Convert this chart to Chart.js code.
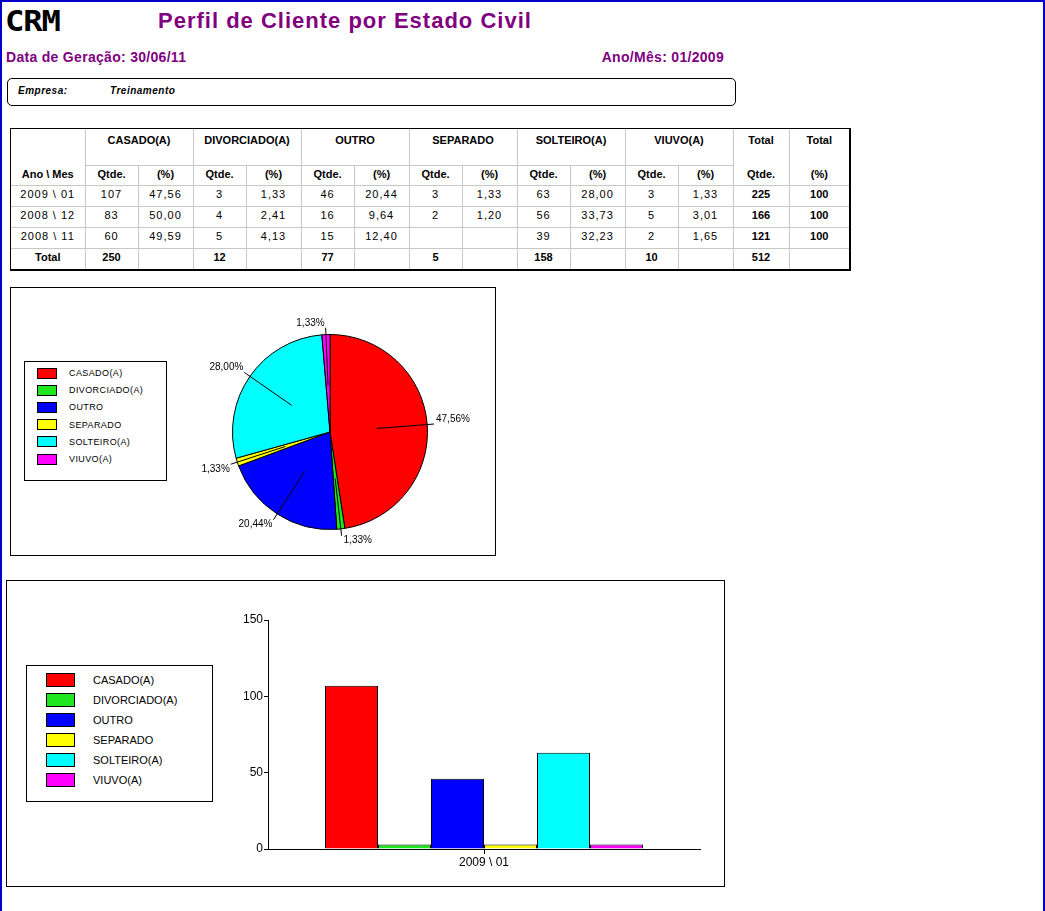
<!DOCTYPE html>
<html lang="pt-BR">
<head>
<meta charset="utf-8">
<title>Perfil de Cliente por Estado Civil</title>
<script src="https://cdn.jsdelivr.net/npm/chart.js@4.4.0/dist/chart.umd.min.js"></script>
<style>
  body { margin: 0; width: 1045px; height: 911px; position: relative; overflow: hidden;
         font-family: "Liberation Sans", Arial, sans-serif; color: #000; background: #fff; }
  .abs { position: absolute; }
  #moldura { left: 0; top: 0; width: 1041px; height: 930px; border: 2px solid #0000c8; border-bottom: none; }
  #logo { left: 5px; top: 5px; font-family: "DejaVu Sans Mono", monospace; font-weight: bold;
          font-size: 28px; letter-spacing: -1px; transform: scaleX(1.15); transform-origin: left; }
  #titulo { left: 158px; top: 8px; font-size: 22px; font-weight: bold; color: #800080; letter-spacing: 1px; }
  .sub { top: 49px; font-size: 14px; font-weight: bold; color: #800080; letter-spacing: 0.3px; }
  #empresa { left: 7px; top: 78px; width: 727px; height: 26px; border: 1px solid #000; border-radius: 5px; }
  #empresa span { position: absolute; top: 6px; font-size: 10px; font-weight: bold; font-style: italic; letter-spacing: 0.5px; }
  #tabelaBox { left: 10px; top: 128px; width: 838px; height: 140px; border: 1px solid #000; border-right-width: 2px; border-bottom-width: 2px; }
  table { border-collapse: collapse; border-style: hidden; table-layout: fixed; width: 838px; font-size: 11px; }
  td { border: 1px solid #c8c8c8; padding: 0; text-align: center; overflow: hidden; white-space: nowrap; }
  td.n { letter-spacing: 1px; }
  td.b { font-weight: bold; }
  td.nb { border-bottom: none; }
  td.nt { border-top: none; }
  tr.h1 td { vertical-align: top; padding-top: 5px; height: 31px; }
  tr.h2 td { height: 16px; vertical-align: middle; padding-bottom: 3px; }
  tr.d td { height: 16px; vertical-align: middle; padding-bottom: 4px; }
  .caixa { border: 1px solid #000; }
  #pieBox { left: 10px; top: 287px; width: 484px; height: 267px; }
  #barBox { left: 6px; top: 580px; width: 717px; height: 305px; }
  .legenda { position: absolute; border: 1px solid #000; background: #fff; }
  .legenda .sw { position: absolute; border: 1px solid #000; box-sizing: border-box; }
  .legenda .tx { position: absolute; white-space: nowrap; }
  #pieLeg { left: 24px; top: 361px; width: 141px; height: 118px; font-size: 9px; letter-spacing: 0.4px; }
  #barLeg { left: 26px; top: 665px; width: 185px; height: 135px; font-size: 11px; }
  canvas { position: absolute; }
</style>
</head>
<body>
<div id="moldura" class="abs"></div>
<div id="logo" class="abs">CRM</div>
<div id="titulo" class="abs">Perfil de Cliente por Estado Civil</div>
<div class="abs sub" style="left:6px;">Data de Geração: 30/06/11</div>
<div class="abs sub" style="right:321px;">Ano/Mês: 01/2009</div>
<div id="empresa" class="abs"><span style="left:10px;">Empresa:</span><span style="left:102px;">Treinamento</span></div>
<div id="tabelaBox" class="abs"><table id="tabela"></table></div>
<div id="pieBox" class="abs caixa"></div>
<div id="pieLeg" class="legenda"></div>
<canvas id="pie" width="300" height="300" style="left:180px; top:282px;"></canvas>
<div id="barBox" class="abs caixa"></div>
<div id="barLeg" class="legenda"></div>
<canvas id="bar" width="476" height="263" style="left:226px; top:610px;"></canvas>

<script>
// Estados civis e cores usadas no gráfico de pizza e no de barras.
const CATEGORIAS = ["CASADO(A)", "DIVORCIADO(A)", "OUTRO", "SEPARADO", "SOLTEIRO(A)", "VIUVO(A)"];
const CORES = ["#ff0000", "#1ee61e", "#0000ff", "#ffff00", "#00ffff", "#ff00ff"];

const PERIODOS = ["2009 \\ 01", "2008 \\ 12", "2008 \\ 11"];

// Quantidades e percentuais por período (null = célula vazia).
const QTDE_200901 = [107, 3, 46, 3, 63, 3];
const QTDE_200812 = [83, 4, 16, 2, 56, 5];
const QTDE_200811 = [60, 5, 15, null, 39, 2];
const PCT_200901 = [47.56, 1.33, 20.44, 1.33, 28.00, 1.33];
const PCT_200812 = [50.00, 2.41, 9.64, 1.20, 33.73, 3.01];
const PCT_200811 = [49.59, 4.13, 12.40, null, 32.23, 1.65];

const TOTAL_PERIODO = [225, 166, 121];
const TOTAL_CATEGORIA = [250, 12, 77, 5, 158, 10];
const TOTAL_GERAL = 512;

const Y_TICKS = [0, 50, 100, 150];

const fmt = (v) => (v == null ? "" : v.toFixed(2).replace(".", ","));

// ---- tabela ----
const colW = [74, 53, 55, 53, 55, 53, 55, 53, 55, 53, 55, 53, 55, 56, 60];
let html = "<colgroup>" + colW.map((w) => `<col style="width:${w}px">`).join("") + "</colgroup>";
html += '<tr class="h1"><td class="nb"></td>';
CATEGORIAS.forEach((c) => { html += `<td colspan="2" class="b">${c}</td>`; });
html += '<td class="b nb">Total</td><td class="b nb">Total</td></tr>';
html += '<tr class="h2"><td class="b nt">Ano \\ Mes</td>';
CATEGORIAS.forEach(() => { html += '<td class="b">Qtde.</td><td class="b">(%)</td>'; });
html += '<td class="b nt">Qtde.</td><td class="b nt">(%)</td></tr>';
const linhas = [[QTDE_200901, PCT_200901], [QTDE_200812, PCT_200812], [QTDE_200811, PCT_200811]];
linhas.forEach(([q, p], r) => {
  html += `<tr class="d"><td class="n">${PERIODOS[r]}</td>`;
  q.forEach((v, i) => { html += `<td class="n">${v == null ? "" : v}</td><td class="n">${fmt(p[i])}</td>`; });
  html += `<td class="b">${TOTAL_PERIODO[r]}</td><td class="b">100</td></tr>`;
});
html += '<tr class="d"><td class="b">Total</td>';
TOTAL_CATEGORIA.forEach((v) => { html += `<td class="b">${v}</td><td></td>`; });
html += `<td class="b">${TOTAL_GERAL}</td><td></td></tr>`;
document.getElementById("tabela").innerHTML = html;

// ---- legendas ----
function legenda(el, passo, topo, swX, swW, swH, txX) {
  CATEGORIAS.forEach((c, i) => {
    const cy = topo + i * passo;
    el.insertAdjacentHTML("beforeend",
      `<div class="sw" style="left:${swX}px;top:${cy - swH / 2}px;width:${swW}px;height:${swH}px;background:${CORES[i]}"></div>` +
      `<div class="tx" style="left:${txX}px;top:${cy - 7}px;line-height:14px">${c}</div>`);
  });
}
legenda(document.getElementById("pieLeg"), 17.2, 11, 12, 20, 11, 44);
legenda(document.getElementById("barLeg"), 20, 14, 19, 29, 14, 66);

// ---- rótulos da pizza com linha de chamada ----
const rotulosPizza = {
  id: "rotulosPizza",
  afterDatasetsDraw(chart) {
    const ctx = chart.ctx;
    const meta = chart.getDatasetMeta(0);
    ctx.save();
    ctx.strokeStyle = "#000";
    ctx.lineWidth = 1;
    ctx.fillStyle = "#000";
    ctx.font = '10px "Liberation Sans", Arial, sans-serif';
    meta.data.forEach((arc, i) => {
      const { x, y, startAngle, endAngle, outerRadius } = arc.getProps(["x", "y", "startAngle", "endAngle", "outerRadius"], true);
      const mid = (startAngle + endAngle) / 2;
      const dx = Math.cos(mid), dy = Math.sin(mid);
      const x1 = x + dx * outerRadius * 0.48, y1 = y + dy * outerRadius * 0.48;
      const x2 = x + dx * outerRadius * 1.07, y2 = y + dy * outerRadius * 1.07;
      ctx.beginPath();
      ctx.moveTo(x1, y1);
      ctx.lineTo(x2, y2);
      ctx.stroke();
      ctx.textAlign = dx >= 0 ? "left" : "right";
      ctx.textBaseline = dy < 0 ? "bottom" : "top";
      ctx.fillText(fmt(chart.data.datasets[0].data[i]) + "%", x2 + (dx >= 0 ? 2 : -1), y2);
    });
    ctx.restore();
  },
};

new Chart(document.getElementById("pie"), {
  type: "pie",
  data: {
    labels: CATEGORIAS,
    datasets: [{
      data: PCT_200901,
      backgroundColor: CORES,
      borderColor: "#000",
      borderWidth: 1,
    }],
  },
  options: {
    responsive: false,
    animation: false,
    layout: { padding: 52 },
    plugins: { legend: { display: false }, tooltip: { enabled: false } },
  },
  plugins: [rotulosPizza],
});

// ---- barras ----
const fonteEixo = { family: '"Liberation Sans", Arial, sans-serif', size: 12 };
new Chart(document.getElementById("bar"), {
  type: "bar",
  data: {
    labels: [PERIODOS[0]],
    datasets: CATEGORIAS.map((c, i) => ({
      label: c,
      data: [QTDE_200901[i]],
      backgroundColor: CORES[i],
      borderColor: "#000",
      borderWidth: 1,
      categoryPercentage: 0.736,
      barPercentage: 1,
    })),
  },
  options: {
    responsive: false,
    animation: false,
    layout: { padding: { top: 10, right: 2, left: 0, bottom: 0 } },
    plugins: { legend: { display: false }, tooltip: { enabled: false } },
    scales: {
      x: {
        grid: { offset: false, drawOnChartArea: false, drawTicks: true, tickLength: 5, color: "#000" },
        border: { display: true, color: "#000", width: 1 },
        ticks: { color: "#000", font: fonteEixo, padding: 1 },
        afterFit: (s) => { s.height = 24; },
      },
      y: {
        min: Y_TICKS[0],
        max: Y_TICKS[Y_TICKS.length - 1],
        afterBuildTicks: (s) => { s.ticks = Y_TICKS.map((v) => ({ value: v })); },
        grid: { drawOnChartArea: false, drawTicks: true, tickLength: 4, color: "#000" },
        border: { display: true, color: "#000", width: 1 },
        ticks: { color: "#000", font: fonteEixo, padding: 1 },
        afterFit: (s) => { s.width = 42; },
      },
    },
  },
});
</script>
</body>
</html>
